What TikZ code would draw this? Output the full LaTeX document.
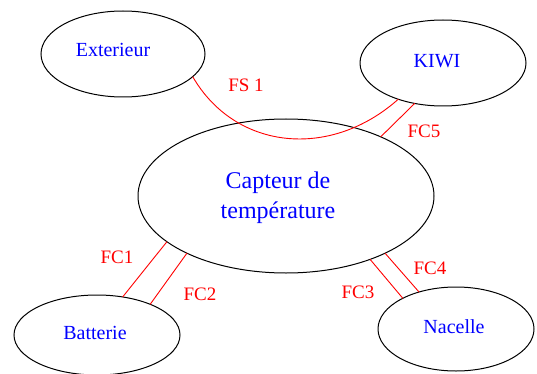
\documentclass[tikz,border=0pt]{standalone}
\usepackage{fontspec}
\setmainfont{Liberation Serif}
\usetikzlibrary{shapes.geometric}
\definecolor{lblue}{RGB}{0,0,255}
\definecolor{lred}{RGB}{255,0,0}
\tikzset{
  ell/.style={draw=black, line width=1pt, ellipse, inner sep=0pt, outer sep=0pt},
  txt/.style={text=lblue, font=\fontsize{20}{24}\selectfont, inner sep=0pt},
  bigtxt/.style={text=lblue, font=\fontsize{24}{30}\selectfont, inner sep=0pt, align=center},
  lab/.style={text=lred, font=\fontsize{19}{22}\selectfont, inner sep=0pt},
  link/.style={draw=lred, line width=0.9pt}
}
\begin{document}
\begin{tikzpicture}[x=1pt,y=-1pt]
\useasboundingbox (0,0) rectangle (537,374);
% ellipses
\node[ell, minimum width=164pt, minimum height=86pt] (ext) at (123,54) {};
\node[ell, minimum width=166pt, minimum height=86pt] (kiwi) at (443,63) {};
\node[ell, minimum width=296pt, minimum height=154pt] (cap) at (286,196) {};
\node[ell, minimum width=166pt, minimum height=80pt] (bat) at (97,335) {};
\node[ell, minimum width=156pt, minimum height=84pt] (nac) at (456,329) {};
% texts
\node[txt] (textext) at (113,50) {Exterieur};
\node[txt] (textkiwi) at (437,61) {KIWI};
\node[bigtxt] (textcap) at (278,198) {Capteur de\\température};
\node[txt] (textbat) at (95,333) {Batterie};
\node[txt] (textnac) at (454,327) {Nacelle};
% links
\draw[link] (ext.342.6) .. controls (235,150) and (330,160) .. (kiwi.219.3);
\draw[link] (kiwi.235) -- (cap.32.4);
\draw[link] (cap.201.9) -- (bat.56.3);
\draw[link] (cap.210.7) -- (bat.30.3);
\draw[link] (cap.323.8) -- (nac.150.9);
\draw[link] (cap.330.8) -- (nac.135);
% labels
\node[lab] (lfs1) at (246,85) {FS 1};
\node[lab] (lfc5) at (424,131) {FC5};
\node[lab] (lfc1) at (117,257) {FC1};
\node[lab] (lfc2) at (200,294) {FC2};
\node[lab] (lfc3) at (358,292) {FC3};
\node[lab] (lfc4) at (430,268) {FC4};
\end{tikzpicture}
\end{document}
